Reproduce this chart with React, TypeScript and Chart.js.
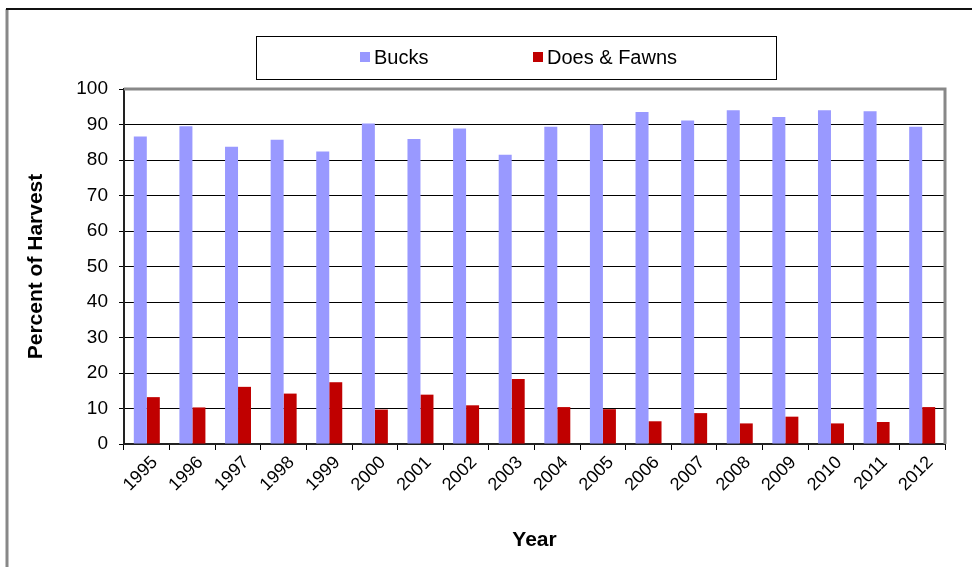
import { useEffect, useRef } from 'react';
import { Chart, registerables } from 'chart.js';

Chart.register(...registerables);

const years = ['1995', '1996', '1997', '1998', '1999', '2000', '2001', '2002', '2003', '2004', '2005', '2006', '2007', '2008', '2009', '2010', '2011', '2012'];
const bucks = [86.6, 89.5, 83.7, 85.7, 82.4, 90.3, 85.9, 88.9, 81.5, 89.4, 90.0, 93.5, 91.1, 94.0, 92.1, 94.0, 93.7, 89.4];
const doesFawns = [13.2, 10.3, 16.1, 14.2, 17.4, 9.7, 13.9, 10.9, 18.3, 10.4, 9.8, 6.4, 8.7, 5.8, 7.7, 5.8, 6.2, 10.4];
const seriesNames = ['Bucks', 'Does & Fawns'];
const seriesColors = ['#9999FF', '#C00000'];

const FONT = '"Liberation Sans", Arial, sans-serif';

const decorPlugin = {
  id: 'decor',
  beforeDraw(chart: any) {
    const { ctx, width, height } = chart;
    ctx.save();
    ctx.fillStyle = '#ffffff';
    ctx.fillRect(0, 0, width, height);
    ctx.strokeStyle = '#888888';
    ctx.lineWidth = 3;
    ctx.beginPath();
    ctx.moveTo(7, 9);
    ctx.lineTo(7, height);
    ctx.stroke();
    ctx.strokeStyle = '#111111';
    ctx.lineWidth = 2;
    ctx.beginPath();
    ctx.moveTo(6, 9);
    ctx.lineTo(width, 9);
    ctx.stroke();
    ctx.restore();
  },
  afterDatasetsDraw(chart: any) {
    const { ctx, chartArea } = chart;
    ctx.save();
    ctx.strokeStyle = '#888888';
    ctx.lineWidth = 3;
    ctx.beginPath();
    ctx.moveTo(chartArea.left, chartArea.top);
    ctx.lineTo(chartArea.right, chartArea.top);
    ctx.lineTo(chartArea.right, chartArea.bottom);
    ctx.stroke();
    ctx.restore();
  },
  afterDraw(chart: any) {
    const { ctx } = chart;
    ctx.save();
    ctx.strokeStyle = '#000000';
    ctx.lineWidth = 1;
    ctx.strokeRect(256.5, 36.5, 520, 43);
    ctx.font = `20px ${FONT}`;
    ctx.textBaseline = 'middle';
    ctx.textAlign = 'left';
    const items = [
      { x: 360, name: seriesNames[0], color: seriesColors[0] },
      { x: 533, name: seriesNames[1], color: seriesColors[1] },
    ];
    items.forEach((it) => {
      ctx.fillStyle = it.color;
      ctx.fillRect(it.x, 52, 10, 10);
      ctx.fillStyle = '#000000';
      ctx.fillText(it.name, it.x + 14, 58);
    });
    ctx.restore();
  },
};

export default function App() {
  const canvasRef = useRef<HTMLCanvasElement | null>(null);

  useEffect(() => {
    if (!canvasRef.current) return;
    const chart = new Chart(canvasRef.current, {
      type: 'bar',
      data: {
        labels: years,
        datasets: [
          {
            label: seriesNames[0],
            data: bucks,
            backgroundColor: seriesColors[0],
            categoryPercentage: 0.57,
            barPercentage: 1.0,
          },
          {
            label: seriesNames[1],
            data: doesFawns,
            backgroundColor: seriesColors[1],
            categoryPercentage: 0.57,
            barPercentage: 1.0,
          },
        ],
      },
      options: {
        animation: false,
        responsive: true,
        maintainAspectRatio: false,
        layout: { padding: { top: 89, right: 27, left: 0, bottom: 0 } },
        plugins: {
          legend: { display: false },
          tooltip: { enabled: false },
        },
        scales: {
          x: {
            grid: {
              display: true,
              drawOnChartArea: false,
              drawTicks: true,
              tickLength: 6,
              color: '#000000',
              offset: true,
            },
            border: { display: true, color: '#222222', width: 2 },
            ticks: {
              autoSkip: false,
              maxRotation: 45,
              minRotation: 45,
              padding: 2,
              labelOffset: 8,
              color: '#000000',
              font: { family: FONT, size: 18 },
            },
            title: {
              display: true,
              text: 'Year',
              color: '#000000',
              font: { family: FONT, size: 21, weight: 'bold' },
              padding: { top: 0, bottom: 14 },
            },
            afterFit(scale: any) {
              scale.height = 123;
            },
          },
          y: {
            min: 0,
            max: 100,
            ticks: {
              stepSize: 10,
              padding: 11,
              color: '#000000',
              font: { family: FONT, size: 19 },
            },
            grid: {
              color: '#000000',
              lineWidth: 1,
              tickLength: 5,
            },
            border: { display: true, color: '#222222', width: 2 },
            title: {
              display: true,
              text: 'Percent of Harvest',
              color: '#000000',
              font: { family: FONT, size: 21, weight: 'bold' },
              padding: { top: 24, bottom: 0 },
            },
            afterFit(scale: any) {
              scale.width = 124;
            },
          },
        },
      },
      plugins: [decorPlugin],
    });
    return () => chart.destroy();
  }, []);

  return (
    <div style={{ position: 'fixed', left: 0, top: 0, width: 972, height: 567 }}>
      <canvas ref={canvasRef} />
    </div>
  );
}
